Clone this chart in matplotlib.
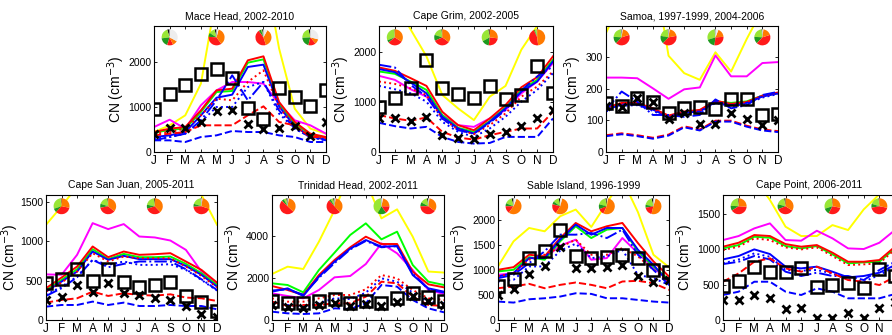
import matplotlib
matplotlib.use("Agg")
import matplotlib.pyplot as plt
from matplotlib.transforms import blended_transform_factory

plt.rcParams['font.family'] = ['Liberation Sans', 'DejaVu Sans']

months = ['J', 'F', 'M', 'A', 'M', 'J', 'J', 'A', 'S', 'O', 'N', 'D']
month_num = list(range(1, 13))
season_centres = [2, 5, 8, 11]

# ---------------- data (cm^-3) ----------------
mace = dict(
    yellow=[444, 593, 815, 1519, 3500, 4500, 4800, 4200, 2300, 963, 519, 407],
    magenta=[555, 718, 519, 1037, 1370, 1555, 1555, 1519, 1074, 704, 593, 407],
    red=[444, 519, 555, 926, 1370, 1407, 2037, 2126, 1111, 667, 407, 333],
    green=[422, 496, 519, 889, 1333, 1356, 1985, 2059, 1074, 630, 393, 319],
    blue=[333, 370, 444, 815, 1207, 1274, 1889, 1941, 1015, 570, 348, 274],
    red_dot=[407, 444, 519, 815, 1185, 1148, 1556, 1815, 1000, 556, 370, 296],
    blue_dot=[296, 333, 407, 667, 1000, 1000, 1444, 1556, 852, 519, 333, 259],
    blue_dashdot=[259, 333, 407, 704, 1148, 1704, 1148, 1556, 926, 519, 333, 259],
    red_dash=[370, 407, 444, 593, 593, 593, 815, 1015, 667, 593, 333, 333],
    blue_dash=[259, 259, 222, 333, 370, 467, 444, 444, 370, 333, 222, 222],
    obs_sq=[963, 1296, 1496, 1726, 1852, 1652, 985, 741, 1430, 1222, 1015, 1385],
    obs_x=[407, 533, 533, 667, 904, 926, 615, 519, 533, 570, 348, 667],
)
grim = dict(
    yellow=[3500, 3000, 2450, 1913, 1141, 872, 638, 1107, 1322, 2047, 2520, 3200],
    magenta=[1523, 1443, 1255, 1107, 738, 537, 503, 671, 839, 1174, 1409, 1779],
    red=[1691, 1624, 1477, 1322, 805, 537, 436, 671, 940, 1295, 1497, 1913],
    green=[1611, 1564, 1409, 1242, 738, 483, 403, 617, 893, 1242, 1443, 1846],
    blue=[1658, 1597, 1389, 1174, 705, 470, 369, 604, 872, 1208, 1409, 1812],
    red_dot=[1409, 1362, 1275, 1141, 671, 450, 356, 537, 772, 1107, 1309, 1611],
    blue_dot=[1322, 1255, 1174, 1007, 604, 403, 302, 470, 705, 1007, 1242, 1577],
    blue_dashdot=[1745, 1691, 1342, 1107, 671, 436, 369, 584, 839, 1228, 1510, 1711],
    red_dash=[738, 671, 624, 691, 403, 289, 248, 336, 403, 470, 470, 805],
    blue_dash=[584, 517, 470, 503, 302, 201, 168, 181, 302, 302, 302, 671],
    obs_sq=[893, 1087, 1275, 1832, 1289, 1154, 1087, 1329, 1067, 1134, 1725, 1188],
    obs_x=[671, 671, 624, 705, 349, 282, 268, 356, 403, 517, 671, 839],
)
samoa = dict(
    yellow=[376, 480, 560, 600, 304, 249, 228, 315, 254, 357, 450, 520],
    magenta=[235, 235, 233, 201, 168, 198, 204, 305, 239, 239, 281, 284],
    red=[140, 155, 155, 138, 115, 128, 133, 162, 152, 158, 178, 188],
    green=[138, 152, 153, 136, 113, 126, 131, 160, 155, 160, 178, 186],
    blue=[133, 150, 150, 134, 110, 124, 128, 158, 148, 155, 175, 185],
    red_dot=[136, 153, 152, 135, 112, 125, 130, 160, 150, 156, 177, 186],
    blue_dot=[128, 146, 148, 130, 108, 120, 125, 155, 145, 152, 172, 183],
    blue_dashdot=[133, 191, 159, 117, 117, 111, 117, 166, 138, 148, 180, 190],
    red_dash=[53, 59, 53, 45, 55, 81, 71, 99, 99, 83, 71, 66],
    blue_dash=[50, 56, 50, 42, 52, 78, 68, 96, 96, 80, 68, 63],
    obs_sq=[154, 145, 170, 159, 122, 138, 141, 135, 166, 168, 117, 120],
    obs_x=[145, 143, 170, 159, 104, 122, 88, 88, 124, 103, 85, 101],
)
sanjuan = dict(
    yellow=[1211, 1445, 1700, 1900, 2000, 2050, 2050, 2000, 1950, 1850, 1590, 1211],
    magenta=[580, 575, 829, 1232, 1156, 1220, 1062, 1050, 1011, 892, 616, 467],
    red=[404, 540, 680, 935, 799, 871, 829, 837, 850, 744, 637, 476],
    green=[382, 510, 646, 901, 774, 841, 799, 799, 807, 714, 595, 446],
    blue=[361, 489, 616, 871, 765, 816, 774, 774, 774, 688, 574, 425],
    red_dot=[361, 476, 616, 850, 744, 807, 786, 786, 786, 680, 561, 416],
    blue_dot=[319, 425, 552, 765, 701, 744, 701, 701, 710, 637, 510, 374],
    blue_dashdot=[306, 404, 544, 765, 671, 714, 744, 744, 744, 646, 518, 382],
    red_dash=[221, 255, 276, 361, 306, 340, 319, 310, 327, 285, 276, 242],
    blue_dash=[170, 191, 191, 234, 191, 221, 178, 178, 191, 178, 178, 136],
    obs_sq=[467, 523, 646, 497, 655, 484, 416, 446, 489, 310, 234, 115],
    obs_x=[255, 297, 451, 361, 470, 340, 319, 276, 255, 178, 76, 42],
)
trinidad = dict(
    yellow=[2182, 2530, 2419, 3715, 5217, 7000, 6600, 4822, 5249, 3953, 2300, 2250],
    magenta=[1265, 1138, 1028, 1423, 2024, 2087, 2656, 3636, 3162, 2372, 1423, 1233],
    red=[1613, 1423, 1186, 2134, 2846, 3447, 3953, 3605, 3605, 2292, 1692, 1549],
    green=[1739, 1660, 1312, 2372, 3194, 4032, 4585, 3826, 4190, 2609, 1818, 1660],
    blue=[1344, 1502, 1138, 2055, 2767, 3383, 3794, 3478, 3510, 2134, 1502, 1344],
    red_dot=[1028, 870, 870, 1028, 1186, 1186, 1455, 2134, 1976, 1423, 1028, 949],
    blue_dot=[870, 711, 632, 791, 1028, 996, 1296, 1976, 1818, 1296, 870, 791],
    blue_dashdot=[1400, 1450, 1200, 2000, 2700, 3350, 3750, 3450, 3500, 2200, 1450, 1300],
    red_dash=[870, 664, 711, 711, 791, 791, 1107, 1818, 1739, 1107, 711, 664],
    blue_dash=[395, 316, 285, 316, 553, 522, 791, 1660, 1581, 949, 553, 364],
    obs_sq=[917, 791, 791, 917, 980, 791, 917, 791, 1028, 1296, 1107, 917],
    obs_x=[711, 601, 585, 711, 822, 664, 759, 680, 870, 1138, 917, 711],
)
sable = dict(
    yellow=[1067, 1567, 1833, 1767, 2067, 2200, 1853, 2333, 2800, 2150, 1300, 1050],
    magenta=[900, 933, 1233, 1233, 1480, 1600, 1200, 1233, 1633, 1333, 1033, 800],
    red=[1000, 1053, 1300, 1267, 1633, 1933, 1767, 1867, 1933, 1533, 1167, 867],
    green=[967, 1000, 1253, 1200, 1567, 1867, 1633, 1800, 1833, 1367, 1067, 800],
    blue=[867, 933, 1233, 1233, 1600, 1900, 1700, 1833, 1833, 1400, 1100, 733],
    red_dot=[867, 933, 1200, 1300, 1453, 1600, 1300, 1300, 1433, 1267, 1000, 767],
    blue_dot=[767, 800, 1067, 1067, 1380, 1520, 1233, 1267, 1400, 900, 833, 700],
    blue_dashdot=[833, 900, 1133, 1367, 1700, 1700, 1733, 1633, 1800, 1300, 1000, 700],
    red_dash=[633, 667, 720, 633, 700, 747, 700, 633, 767, 780, 733, 600],
    blue_dash=[367, 347, 413, 433, 467, 533, 520, 433, 433, 400, 367, 347],
    obs_sq=[680, 813, 1233, 1380, 1787, 1280, 1233, 1247, 1300, 1233, 987, 953],
    obs_x=[500, 613, 920, 1067, 1447, 1033, 1033, 1047, 1100, 880, 753, 800],
)
capepoint = dict(
    yellow=[2400, 2200, 2000, 1700, 1321, 1189, 1189, 1344, 1274, 1566, 1780, 2200],
    magenta=[1132, 1189, 1297, 1368, 1132, 1123, 1264, 1156, 1014, 1005, 1094, 1274],
    red=[1038, 1094, 1203, 1189, 1075, 1038, 1061, 953, 825, 825, 849, 1038],
    green=[1014, 1061, 1179, 1165, 1047, 1014, 1047, 929, 802, 816, 825, 1014],
    blue=[858, 906, 1000, 934, 755, 731, 755, 684, 604, 623, 670, 778],
    red_dot=[991, 1038, 1156, 1132, 1028, 1000, 1028, 906, 778, 788, 802, 1000],
    blue_dot=[802, 858, 943, 896, 708, 698, 708, 660, 575, 542, 637, 755],
    blue_dashdot=[792, 825, 906, 858, 684, 623, 670, 623, 623, 566, 708, 825],
    red_dash=[542, 660, 825, 873, 731, 684, 755, 660, 566, 542, 495, 613],
    blue_dash=[354, 401, 542, 542, 401, 354, 448, 401, 307, 307, 307, 368],
    obs_sq=[486, 552, 755, 684, 675, 731, 472, 495, 519, 448, 722, 623],
    obs_x=[283, 283, 354, 316, 151, 165, 24, 24, 94, 24, 175, 250],
)

# pie fractions per season (counter-clockwise from top)
mace_pies = [[0.05, 0.22, 0.18, 0.12, 0.10, 0.33], [0.04, 0.12, 0.08, 0.36, 0.36, 0.04],
             [0.03, 0.02, 0.05, 0.45, 0.37, 0.08], [0.04, 0.22, 0.20, 0.15, 0.10, 0.29]]
grim_pies = [[0.01, 0.30, 0.05, 0.30, 0.34, 0.0], [0.02, 0.18, 0.12, 0.33, 0.35, 0.0],
             [0.03, 0.30, 0.15, 0.25, 0.27, 0.0], [0.01, 0.04, 0.02, 0.45, 0.48, 0.0]]
samoa_pies = [[0.02, 0.22, 0.14, 0.42, 0.18, 0.02], [0.02, 0.20, 0.16, 0.40, 0.20, 0.02],
              [0.02, 0.28, 0.18, 0.28, 0.18, 0.06], [0.02, 0.22, 0.14, 0.42, 0.18, 0.02]]
sanjuan_pies = [[0.02, 0.28, 0.08, 0.34, 0.28, 0.0], [0.02, 0.18, 0.08, 0.36, 0.36, 0.0],
                [0.02, 0.20, 0.08, 0.32, 0.38, 0.0], [0.02, 0.18, 0.06, 0.44, 0.28, 0.02]]
trinidad_pies = [[0.03, 0.05, 0.05, 0.50, 0.35, 0.02], [0.03, 0.05, 0.04, 0.50, 0.36, 0.02],
                 [0.02, 0.40, 0.18, 0.15, 0.22, 0.03], [0.03, 0.14, 0.08, 0.40, 0.33, 0.02]]
sable_pies = [[0.04, 0.15, 0.06, 0.15, 0.54, 0.06], [0.03, 0.12, 0.06, 0.20, 0.55, 0.04],
              [0.03, 0.18, 0.10, 0.12, 0.55, 0.02], [0.04, 0.18, 0.06, 0.18, 0.50, 0.04]]
capepoint_pies = [[0.02, 0.22, 0.10, 0.40, 0.26, 0.0], [0.03, 0.18, 0.10, 0.35, 0.34, 0.0],
                  [0.02, 0.28, 0.12, 0.30, 0.28, 0.0], [0.02, 0.18, 0.08, 0.44, 0.28, 0.0]]

titles = ["Mace Head, 2002-2010", "Cape Grim, 2002-2005", "Samoa, 1997-1999, 2004-2006",
          "Cape San Juan, 2005-2011", "Trinidad Head, 2002-2011", "Sable Island, 1996-1999",
          "Cape Point, 2006-2011"]
site_data = [mace, grim, samoa, sanjuan, trinidad, sable, capepoint]
site_pies = [mace_pies, grim_pies, samoa_pies, sanjuan_pies, trinidad_pies, sable_pies, capepoint_pies]
ylims = [2800, 2520, 398, 1590, 5930, 2490, 1770]
yticks = [[0, 1000, 2000], [0, 1000, 2000], [0, 100, 200, 300], [0, 500, 1000, 1500],
          [0, 2000, 4000], [0, 500, 1000, 1500, 2000], [0, 500, 1000, 1500]]

# ---------------- styles ----------------
line_styles = [
    ('yellow', '#FFFF00', '-'),
    ('magenta', '#FF00FF', '-'),
    ('green', '#00FF00', '-'),
    ('red', '#FF0000', '-'),
    ('blue', '#0000FF', '-'),
    ('red_dot', '#FF0000', ':'),
    ('blue_dot', '#0000FF', ':'),
    ('blue_dashdot', '#0000FF', '-.'),
    ('red_dash', '#FF0000', '--'),
    ('blue_dash', '#0000FF', '--'),
]
pie_colors = ['#111111', '#99E636', '#1E9A1E', '#FF1A1A', '#FF7A00', '#EDEDED']

W, H = 892, 335
fig = plt.figure(figsize=(W / 100, H / 100), dpi=100)

def px_axes(left, top, right, bottom):
    return fig.add_axes([left / W, 1 - bottom / H, (right - left) / W, (bottom - top) / H])

boxes = [(154, 26, 326, 152), (379, 26, 553, 152), (606, 26, 778, 152),
         (46, 195, 217, 320), (272, 195, 444, 320), (498, 195, 669, 320),
         (723, 195, 895, 320)]

for i, (box, d, pies) in enumerate(zip(boxes, site_data, site_pies)):
    ax = px_axes(*box)
    for key, col, ls in line_styles:
        ax.plot(month_num, d[key], color=col, ls=ls, lw=1.4)
    ax.plot(month_num, d['obs_sq'], ls='none', marker='s', ms=8.5, mfc='none',
            mec='black', mew=1.8)
    ax.plot(month_num, d['obs_x'], ls='none', marker='x', ms=5.5, mec='black', mew=2.0)
    ax.set_xlim(1, 12)
    ax.set_ylim(0, ylims[i])
    ax.set_xticks(month_num)
    ax.set_xticklabels(months, fontsize=8.5)
    ax.set_yticks(yticks[i])
    ax.tick_params(axis='y', labelsize=7.5)
    ax.tick_params(direction='in', top=True, right=True, length=2.5, width=0.6, pad=2)
    for s in ax.spines.values():
        s.set_linewidth(0.8)
    ax.set_title(titles[i], fontsize=7.5, pad=5)
    ax.set_ylabel('CN (cm$^{-3}$)', fontsize=10, labelpad=1)
    if i == 3:
        ax.yaxis.set_label_coords(-0.145, 0.5)
    tr = blended_transform_factory(ax.transData, ax.transAxes)
    for m, fr in zip(season_centres, pies):
        pax = ax.inset_axes([m - 0.75, 0.845, 1.5, 0.13], transform=tr)
        vals = [max(v, 1e-6) for v in fr]
        pax.pie(vals, colors=pie_colors, startangle=90, counterclock=True,
                wedgeprops=dict(linewidth=0))
        pax.set_xlim(-1.02, 1.02)
        pax.set_ylim(-1.02, 1.02)
        pax.set_axis_off()

fig.savefig('out.png', dpi=100)
